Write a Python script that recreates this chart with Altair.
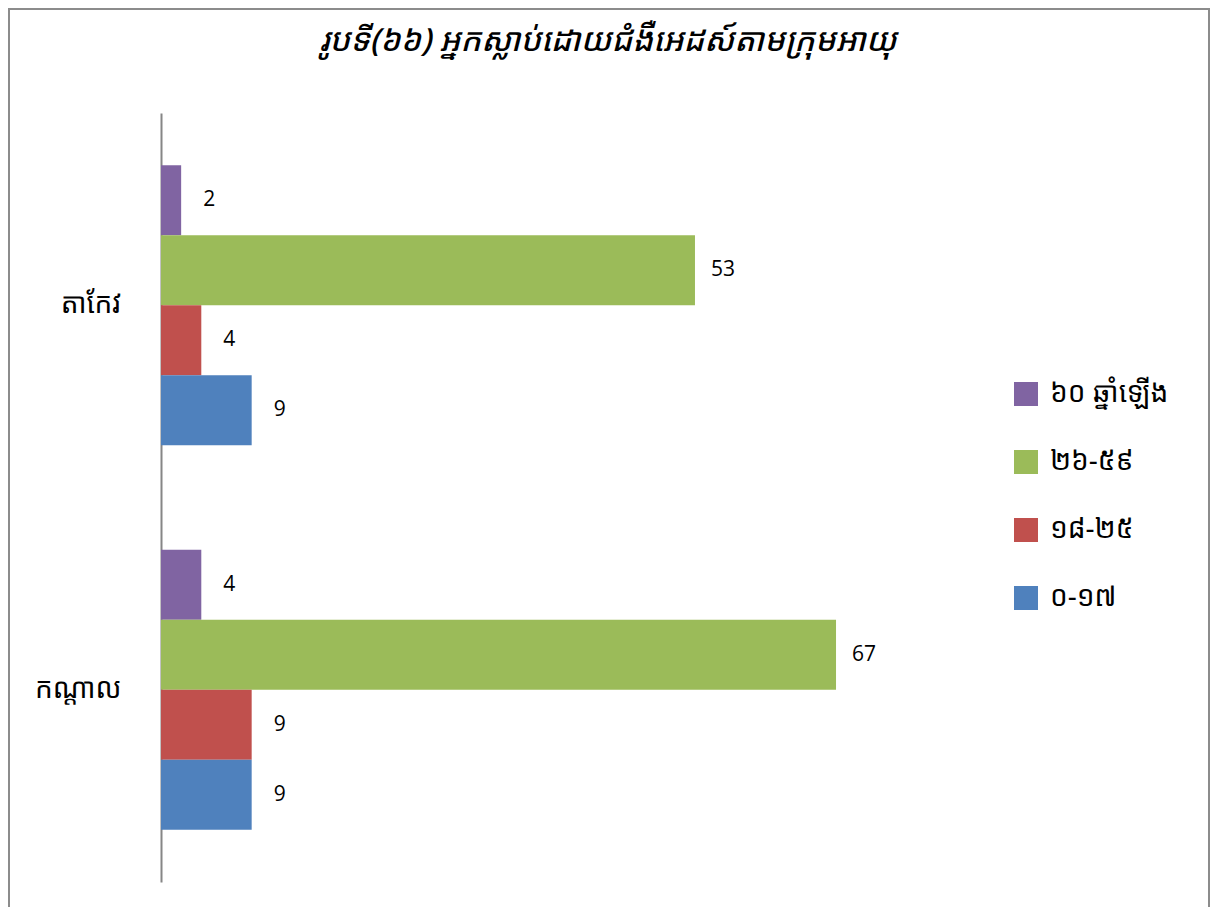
import altair as alt
import pandas as pd

title_text = "រូបទី(៦៦) អ្នកស្លាប់ដោយជំងឺអេដស៍តាមក្រុមអាយុ"
provinces = ["តាកែវ", "កណ្តាល"]
groups = ["៦០ ឆ្នាំឡើង", "២៦-៥៩", "១៨-២៥", "០-១៧"]
colors = ["#8064A2", "#9BBB59", "#C0504D", "#4F81BD"]
values_takeo = [2, 53, 4, 9]
values_kandal = [4, 67, 9, 9]

rows = []
for g, v in zip(groups, values_takeo):
    rows.append({"province": provinces[0], "group": g, "value": v})
for g, v in zip(groups, values_kandal):
    rows.append({"province": provinces[1], "group": g, "value": v})
df = pd.DataFrame(rows)

W, H = 806, 769
PL, PT, PR, PB = 153, 105, 243, 25
khmer_font = "Khmer OS, Noto Sans Khmer, Khmer OS System, Noto Sans, DejaVu Sans, sans-serif"

base = alt.Chart(df).encode(
    y=alt.Y("province:N", sort=provinces,
            scale=alt.Scale(paddingInner=0.272, paddingOuter=0.136),
            axis=alt.Axis(title=None, ticks=False, labelFontSize=28, labelFont=khmer_font,
                          labelColor="#000000", labelPadding=40, domainColor="#868686",
                          domainWidth=2, grid=False)),
    yOffset=alt.YOffset("group:N", sort=groups,
                        scale=alt.Scale(paddingInner=0, paddingOuter=0)),
)

bars = base.mark_bar().encode(
    x=alt.X("value:Q", scale=alt.Scale(domain=[0, 80]), axis=None),
    color=alt.Color("group:N", sort=groups,
                    scale=alt.Scale(domain=groups, range=colors),
                    legend=alt.Legend(title=None, orient="none", legendX=851, legendY=267,
                                      symbolType="square", symbolSize=576,
                                      symbolStrokeWidth=0, labelFontSize=28,
                                      labelFont=khmer_font, labelColor="#000000",
                                      rowPadding=40, labelOffset=10)),
)

labels = base.mark_text(align="center", baseline="middle", dx=28, fontSize=21,
                        font="Open Sans", color="#000000").encode(
    x=alt.X("value:Q", scale=alt.Scale(domain=[0, 80]), axis=None),
    text=alt.Text("value:Q"),
)

border = alt.Chart(alt.Data(values=[{}])).mark_rect(
    fill=None, stroke="#8c8c8c", strokeWidth=2
).encode(
    x=alt.value(-PL + 1), x2=alt.value(W + PR - 1),
    y=alt.value(-PT + 1), y2=alt.value(H + PB + 20),
)

chart = alt.layer(border, bars, labels).properties(
    width=W, height=H,
    title=alt.TitleParams(title_text, fontSize=32, font=khmer_font, fontStyle="italic",
                          fontWeight=500, color="#000000", anchor="middle",
                          dx=44, offset=-50),
    autosize=alt.AutoSizeParams(type="none"),
    padding={"left": PL, "top": PT, "right": PR, "bottom": PB},
).configure(background="white", view=alt.ViewConfig(strokeWidth=0, stroke="transparent"))

chart.save("out.html", embed_options={"renderer": "svg", "actions": False})
